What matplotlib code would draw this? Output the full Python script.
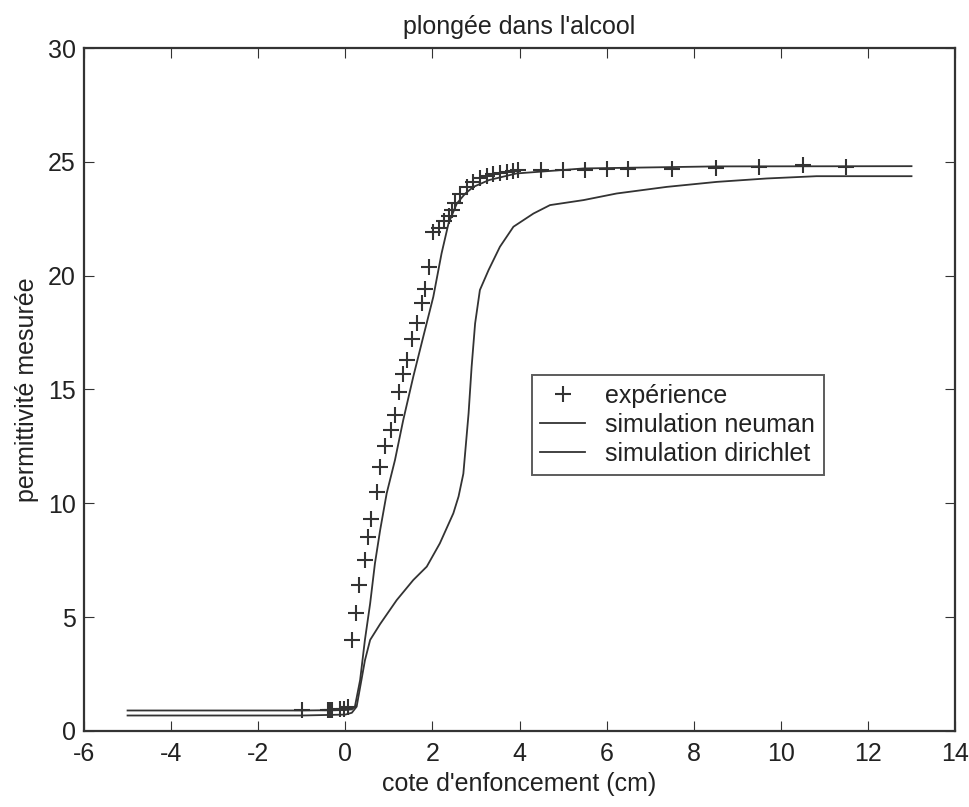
import matplotlib
matplotlib.use('Agg')
import matplotlib.pyplot as plt

plt.rcParams['font.family'] = ['Liberation Sans', 'DejaVu Sans']
plt.rcParams['axes.unicode_minus'] = False

# experiment (measured points)
exp_x = [-1.0, -0.4, -0.35, -0.3, -0.12, -0.03, 0.07, 0.15, 0.25, 0.32, 0.45, 0.53, 0.60,
         0.72, 0.80, 0.91, 1.06, 1.14, 1.24, 1.33, 1.41, 1.52, 1.64, 1.75, 1.83, 1.92,
         2.02, 2.14, 2.27, 2.37, 2.44, 2.52, 2.63, 2.79, 2.94, 3.09, 3.25, 3.40, 3.55,
         3.71, 3.86, 3.97, 4.5, 5.0, 5.5, 6.0, 6.5, 7.5, 8.5, 9.5, 10.5, 11.5]
exp_y = [0.92, 0.92, 0.92, 0.92, 0.95, 0.98, 1.07, 4.0, 5.2, 6.4, 7.5, 8.5, 9.3,
         10.5, 11.6, 12.5, 13.2, 13.9, 14.9, 15.7, 16.3, 17.2, 17.9, 18.8, 19.4, 20.4,
         21.9, 22.1, 22.4, 22.6, 22.9, 23.2, 23.6, 23.9, 24.1, 24.3, 24.4, 24.45, 24.5,
         24.55, 24.6, 24.62, 24.65, 24.65, 24.65, 24.67, 24.68, 24.7, 24.75, 24.78, 24.85, 24.78]

# simulation neuman
neu_x = [-5, -1, 0, 0.15, 0.22, 0.34, 0.45, 0.57, 0.68, 0.80, 0.95, 1.14, 1.33, 1.56,
         1.79, 2.02, 2.21, 2.37, 2.56, 2.75, 2.94, 3.3, 3.93, 5.47, 8.5, 13]
neu_y = [0.9, 0.9, 0.92, 0.95, 1.07, 2.24, 4.0, 5.6, 7.36, 8.83, 10.44, 11.9, 13.66, 15.56,
         17.32, 19.07, 20.98, 22.3, 23.17, 23.6, 23.9, 24.2, 24.49, 24.71, 24.8, 24.81]

# simulation dirichlet
dir_x = [-5, -1, 0, 0.15, 0.26, 0.37, 0.45, 0.57, 0.8, 1.18, 1.56, 1.87, 2.17, 2.48, 2.6,
         2.71, 2.83, 2.90, 2.98, 3.09, 3.29, 3.55, 3.86, 4.32, 4.70, 5.47, 6.23, 7.38,
         8.53, 9.68, 10.82, 13]
dir_y = [0.68, 0.68, 0.72, 0.8, 1.07, 2.24, 3.1, 4.0, 4.7, 5.75, 6.63, 7.22, 8.24, 9.56, 10.3,
         11.3, 13.95, 16.0, 17.9, 19.37, 20.25, 21.27, 22.15, 22.73, 23.1, 23.32, 23.61, 23.9,
         24.12, 24.27, 24.37, 24.37]

col = '#333333'
fs = 18

fig = plt.figure(figsize=(9.7, 8.07), dpi=100)
ax = fig.add_axes([0.0866, 0.0942, 0.898, 0.8463])

ax.plot(exp_x, exp_y, '+', color=col, markersize=12, markeredgewidth=1.5, label='expérience')
ax.plot(neu_x, neu_y, '-', color=col, lw=1.3, label='simulation neuman')
ax.plot(dir_x, dir_y, '-', color=col, lw=1.3, label='simulation dirichlet')

ax.set_xlim(-6, 14)
ax.set_ylim(0, 30)
ax.set_xticks(range(-6, 15, 2))
ax.set_yticks(range(0, 31, 5))
ax.tick_params(direction='in', top=True, right=True, labelsize=fs, length=7,
               color=col, labelcolor='#222222')
ax.tick_params(axis='x', pad=8)
ax.tick_params(axis='y', pad=6)
for s in ax.spines.values():
    s.set_linewidth(1.6)
    s.set_color(col)

ax.set_title("plongée dans l'alcool", fontsize=fs, pad=10, color='#222222')
ax.set_xlabel("cote d'enfoncement (cm)", fontsize=fs, labelpad=4, color='#222222')
ax.set_ylabel("permittivité mesurée", fontsize=fs, labelpad=6, color='#222222')

leg = ax.legend(loc='upper left', bbox_to_anchor=(0.514, 0.521), fontsize=fs,
                frameon=True, fancybox=False, edgecolor=col, handlelength=1.8,
                borderpad=0.35, labelspacing=0.2, handletextpad=0.8, borderaxespad=0)
leg.get_frame().set_linewidth(1.4)
for t in leg.get_texts():
    t.set_color('#222222')

fig.savefig('out.png', dpi=100)
